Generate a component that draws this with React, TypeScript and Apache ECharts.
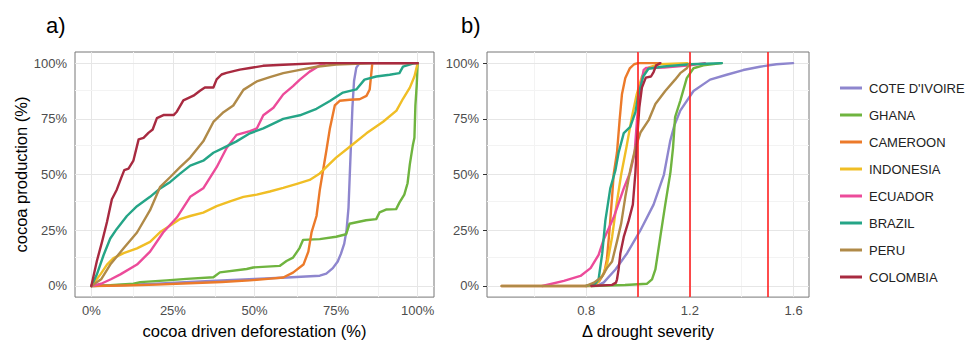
import React, { useEffect, useRef } from "react";
import * as echarts from "echarts";

const countries = ["COTE D'IVOIRE", "GHANA", "CAMEROON", "INDONESIA", "ECUADOR", "BRAZIL", "PERU", "COLOMBIA"];
const colors = ["#8E86CE", "#6FB43F", "#EC7A2A", "#F0BE25", "#EC4B9A", "#25A587", "#B08A48", "#A82A40"];

// Panel a: cumulative deforestation (x) vs cumulative cocoa production (y)
const coteA = [[0,0],[0.1,0.004],[0.2,0.01],[0.3,0.018],[0.4,0.025],[0.5,0.032],[0.6,0.038],[0.7,0.046],[0.72,0.055],[0.74,0.08],[0.755,0.11],[0.765,0.145],[0.775,0.19],[0.782,0.25],[0.788,0.35],[0.792,0.5],[0.796,0.65],[0.8,0.8],[0.805,0.92],[0.812,0.98],[0.822,1],[1,1]];
const ghanaA = [[0,0],[0.058,0.003],[0.129,0.01],[0.15,0.017],[0.231,0.025],[0.292,0.032],[0.374,0.039],[0.394,0.061],[0.476,0.076],[0.496,0.083],[0.577,0.09],[0.598,0.112],[0.618,0.127],[0.638,0.17],[0.649,0.207],[0.7,0.21],[0.75,0.221],[0.781,0.232],[0.791,0.279],[0.842,0.295],[0.873,0.3],[0.883,0.33],[0.903,0.343],[0.934,0.345],[0.944,0.374],[0.959,0.41],[0.969,0.461],[0.976,0.547],[0.985,0.63],[0.99,0.665],[0.993,0.81],[0.997,0.9],[1,1]];
const cameroonA = [[0,0],[0.1,0.002],[0.2,0.006],[0.3,0.012],[0.4,0.018],[0.486,0.025],[0.55,0.033],[0.588,0.038],[0.618,0.06],[0.65,0.096],[0.665,0.154],[0.675,0.242],[0.69,0.314],[0.7,0.43],[0.71,0.518],[0.72,0.606],[0.731,0.707],[0.746,0.81],[0.761,0.831],[0.792,0.836],[0.822,0.838],[0.843,0.853],[0.853,0.882],[0.858,0.955],[0.861,1],[1,1]];
const indonesiaA = [[0,0],[0.028,0.052],[0.048,0.096],[0.068,0.125],[0.099,0.147],[0.14,0.169],[0.18,0.198],[0.211,0.242],[0.242,0.271],[0.272,0.3],[0.303,0.314],[0.343,0.329],[0.384,0.358],[0.425,0.38],[0.466,0.4],[0.507,0.41],[0.547,0.424],[0.588,0.44],[0.63,0.458],[0.669,0.476],[0.7,0.505],[0.75,0.576],[0.792,0.625],[0.843,0.685],[0.894,0.737],[0.935,0.787],[0.955,0.84],[0.976,0.89],[0.99,0.94],[1,1]];
const ecuadorA = [[0,0],[0.03,0.01],[0.06,0.03],[0.089,0.052],[0.14,0.096],[0.18,0.154],[0.22,0.24],[0.262,0.307],[0.303,0.4],[0.343,0.438],[0.384,0.533],[0.415,0.62],[0.445,0.678],[0.486,0.695],[0.507,0.707],[0.527,0.766],[0.558,0.8],[0.588,0.86],[0.618,0.897],[0.639,0.926],[0.669,0.962],[0.7,0.99],[0.72,1],[1,1]];
const brazilA = [[0,0],[0.017,0.052],[0.038,0.14],[0.058,0.213],[0.078,0.256],[0.109,0.314],[0.14,0.358],[0.18,0.4],[0.211,0.438],[0.242,0.467],[0.272,0.504],[0.303,0.54],[0.343,0.562],[0.374,0.598],[0.405,0.62],[0.445,0.649],[0.486,0.685],[0.527,0.707],[0.588,0.75],[0.639,0.766],[0.69,0.795],[0.731,0.83],[0.771,0.868],[0.812,0.882],[0.837,0.926],[0.873,0.94],[0.914,0.948],[0.944,0.955],[0.955,0.984],[0.99,1],[1,1]];
const peruA = [[0,0],[0.03,0.03],[0.058,0.096],[0.099,0.169],[0.14,0.24],[0.18,0.34],[0.211,0.445],[0.242,0.489],[0.272,0.533],[0.303,0.576],[0.343,0.649],[0.374,0.736],[0.405,0.78],[0.435,0.81],[0.466,0.88],[0.507,0.918],[0.547,0.937],[0.588,0.955],[0.639,0.97],[0.69,0.984],[0.75,0.994],[0.87,1],[1,1]];
const colombiaA = [[0,0],[0.017,0.112],[0.033,0.199],[0.048,0.287],[0.063,0.389],[0.078,0.432],[0.091,0.483],[0.101,0.52],[0.114,0.527],[0.129,0.563],[0.145,0.658],[0.16,0.665],[0.175,0.687],[0.188,0.702],[0.201,0.753],[0.221,0.767],[0.252,0.767],[0.262,0.782],[0.282,0.833],[0.313,0.854],[0.333,0.876],[0.348,0.891],[0.374,0.891],[0.384,0.927],[0.399,0.949],[0.414,0.956],[0.455,0.971],[0.486,0.978],[0.526,0.988],[0.588,0.993],[0.7,1],[1,1]];

// Panel b: drought severity (x) vs cumulative cocoa production (y)
const coteB = [[0.8,0],[0.85,0.005],[0.868,0.016],[0.913,0.074],[0.958,0.147],[1.009,0.249],[1.06,0.365],[1.1,0.5],[1.124,0.65],[1.14,0.72],[1.163,0.787],[1.214,0.875],[1.278,0.926],[1.342,0.948],[1.406,0.969],[1.47,0.984],[1.534,0.995],[1.598,1]];
const ghanaB = [[0.82,0],[0.95,0.004],[1.035,0.01],[1.054,0.03],[1.067,0.074],[1.086,0.22],[1.105,0.365],[1.125,0.51],[1.135,0.62],[1.143,0.758],[1.163,0.831],[1.188,0.933],[1.214,0.977],[1.252,0.99],[1.323,1]];
const cameroonB = [[0.474,0],[0.82,0],[0.85,0.02],[0.87,0.06],[0.88,0.12],[0.89,0.25],[0.9,0.4],[0.906,0.5],[0.919,0.6],[0.929,0.744],[0.938,0.86],[0.951,0.933],[0.968,0.976],[0.985,0.995],[1.0,1],[1.086,1]];
const indonesiaB = [[0.8,0],[0.84,0.01],[0.865,0.05],[0.881,0.1],[0.9,0.22],[0.917,0.365],[0.935,0.5],[0.955,0.62],[0.975,0.75],[0.995,0.86],[1.015,0.94],[1.04,0.98],[1.08,0.995],[1.19,1]];
const ecuadorB = [[0.631,0],[0.714,0.023],[0.778,0.045],[0.817,0.08],[0.848,0.14],[0.868,0.21],[0.906,0.307],[0.945,0.438],[0.97,0.51],[0.987,0.598],[0.996,0.744],[1.009,0.89],[1.022,0.97],[1.03,0.978],[1.1,0.98],[1.2,0.99],[1.258,1]];
const brazilB = [[0.8,0],[0.835,0.01],[0.848,0.03],[0.862,0.147],[0.874,0.293],[0.893,0.438],[0.913,0.52],[0.925,0.598],[0.945,0.686],[0.97,0.714],[0.99,0.78],[1.0,0.85],[1.02,0.94],[1.04,0.975],[1.1,0.985],[1.2,0.995],[1.323,1]];
const peruB = [[0.474,0],[0.8,0],[0.83,0.015],[0.86,0.04],[0.88,0.08],[0.9,0.11],[0.919,0.2],[0.935,0.28],[0.951,0.4],[0.97,0.52],[0.99,0.62],[1.01,0.69],[1.041,0.744],[1.067,0.817],[1.105,0.875],[1.143,0.926],[1.163,0.955],[1.188,0.977],[1.2,1]];
const colombiaB = [[0.82,0],[0.9,0.005],[0.915,0.015],[0.919,0.03],[0.925,0.074],[0.932,0.147],[0.945,0.22],[0.964,0.293],[0.98,0.365],[0.99,0.51],[0.996,0.65],[1.005,0.8],[1.015,0.89],[1.03,0.935],[1.05,0.94],[1.06,0.96],[1.07,0.99],[1.086,1]];

const panelA = [coteA, ghanaA, cameroonA, indonesiaA, ecuadorA, brazilA, peruA, colombiaA];
const panelB = [coteB, ghanaB, cameroonB, indonesiaB, ecuadorB, brazilB, peruB, colombiaB];

const yTicks = [0, 0.25, 0.5, 0.75, 1];
const yMinor = [0.125, 0.375, 0.625, 0.875];
const xTicksA = [0, 0.25, 0.5, 0.75, 1];
const xMinorA = [0.125, 0.375, 0.625, 0.875];
const xTicksB = [0.8, 1.2, 1.6];
const xMinorB = [0.6, 1.0, 1.4];
const thresholds = [1.0, 1.2, 1.5];

const FONT = "'Liberation Sans', Arial, sans-serif";

export default function App() {
  const ref = useRef<HTMLDivElement>(null);
  useEffect(() => {
    if (!ref.current) return;
    const chart = echarts.init(ref.current, null, { renderer: "svg" });
    const major = { color: "#e6e6e6", width: 1, type: "solid" as const };
    const minor = { color: "#f3f3f3", width: 1, type: "solid" as const };
    const gridLines = (xs: number[], xm: number[]) => [
      ...xs.map((v) => ({ xAxis: v, lineStyle: major })),
      ...xm.map((v) => ({ xAxis: v, lineStyle: minor })),
      ...yTicks.map((v) => ({ yAxis: v, lineStyle: major })),
      ...yMinor.map((v) => ({ yAxis: v, lineStyle: minor })),
    ];
    const helper = (idx: number, lines: any[], z: number, name: string) => ({
      type: "line",
      name,
      xAxisIndex: idx,
      yAxisIndex: idx,
      data: [],
      z,
      silent: true,
      markLine: { silent: true, z, symbol: "none", label: { show: false }, animation: false, data: lines },
    });
    const pct = (v: number) => Math.round(v * 100) + "%";
    const axisLabel = { color: "#4d4d4d", fontSize: 13, fontFamily: FONT };
    const tick = { show: true, length: 4, lineStyle: { color: "#333", width: 1 } };
    const dataSeries = (arrs: number[][][], idx: number) =>
      arrs.map((d, i) => ({
        type: "line",
        name: countries[i],
        xAxisIndex: idx,
        yAxisIndex: idx,
        data: d,
        showSymbol: false,
        symbol: "none",
        color: colors[i],
        lineStyle: { width: 2.4, color: colors[i], cap: "round", join: "round" },
        emphasis: { disabled: true },
        z: 3,
      }));
    const option: any = {
      animation: false,
      backgroundColor: "#ffffff",
      textStyle: { fontFamily: FONT },
      title: [
        { text: "a)", left: 41, top: 9, textStyle: { fontSize: 22, fontWeight: "normal", color: "#000", fontFamily: FONT } },
        { text: "b)", left: 456, top: 9, textStyle: { fontSize: 22, fontWeight: "normal", color: "#000", fontFamily: FONT } },
      ],
      legend: {
        data: countries,
        orient: "vertical",
        left: 835,
        top: 75,
        itemWidth: 22,
        itemHeight: 3,
        itemGap: 11,
        icon: "rect",
        selectedMode: false,
        textStyle: { fontSize: 13, color: "#222", fontFamily: FONT, lineHeight: 16, padding: [0, 0, 0, 2] },
      },
      grid: [
        { left: 75, top: 52, width: 359, height: 251, show: true, borderColor: "#777", borderWidth: 1, backgroundColor: "#fff" },
        { left: 487, top: 52, width: 322, height: 251, show: true, borderColor: "#777", borderWidth: 1, backgroundColor: "#fff" },
      ],
      xAxis: [
        {
          type: "value", gridIndex: 0, min: -0.05, max: 1.05,
          axisLine: { show: false }, splitLine: { show: false },
          axisTick: { ...tick, customValues: xTicksA },
          axisLabel: { ...axisLabel, margin: 7, customValues: xTicksA, formatter: pct },
          name: "cocoa driven deforestation (%)", nameLocation: "middle", nameGap: 23,
          nameTextStyle: { fontSize: 16.5, color: "#000", fontFamily: FONT },
        },
        {
          type: "value", gridIndex: 1, min: 0.4175, max: 1.6595,
          axisLine: { show: false }, splitLine: { show: false },
          axisTick: { ...tick, customValues: xTicksB },
          axisLabel: { ...axisLabel, margin: 7, customValues: xTicksB, formatter: (v: number) => v.toFixed(1) },
          name: "Δ drought severity", nameLocation: "middle", nameGap: 23,
          nameTextStyle: { fontSize: 16.5, color: "#000", fontFamily: FONT },
        },
      ],
      yAxis: [
        {
          type: "value", gridIndex: 0, min: -0.05, max: 1.05,
          axisLine: { show: false }, splitLine: { show: false },
          axisTick: { ...tick, customValues: yTicks },
          axisLabel: { ...axisLabel, margin: 8, customValues: yTicks, formatter: pct },
          name: "cocoa production (%)", nameLocation: "middle", nameGap: 43, nameRotate: 90,
          nameTextStyle: { fontSize: 16.5, color: "#000", fontFamily: FONT },
        },
        {
          type: "value", gridIndex: 1, min: -0.05, max: 1.05,
          axisLine: { show: false }, splitLine: { show: false },
          axisTick: { ...tick, customValues: yTicks },
          axisLabel: { ...axisLabel, margin: 8, customValues: yTicks, formatter: pct },
        },
      ],
      series: [
        helper(0, gridLines(xTicksA, xMinorA), 1, "gridA"),
        helper(1, gridLines(xTicksB, xMinorB), 1, "gridB"),
        ...dataSeries(panelA, 0),
        ...dataSeries(panelB, 1),
        helper(1, thresholds.map((v) => ({ xAxis: v, lineStyle: { color: "#ff2020", width: 1.6, type: "solid" } })), 6, "thresholds"),
      ],
    };
    chart.setOption(option);
    return () => chart.dispose();
  }, []);
  return <div ref={ref} style={{ width: 969, height: 344, position: "absolute", left: 0, top: 0 }} />;
}
